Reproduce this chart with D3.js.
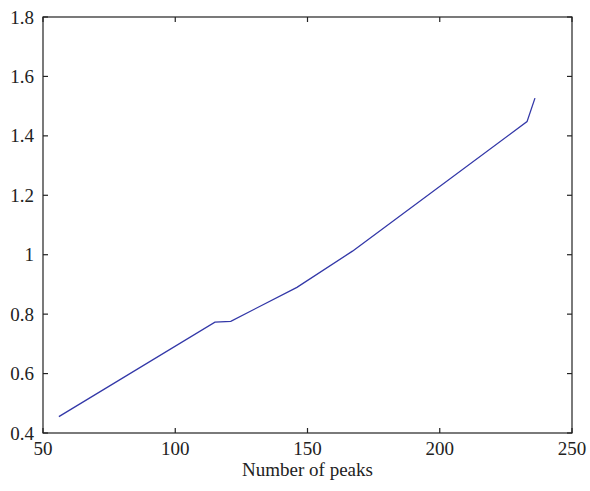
<!DOCTYPE html>
<html>
<head>
<meta charset="utf-8">
<script src="https://cdn.jsdelivr.net/npm/d3@7"></script>
<style>
  body { margin: 0; background: #fff; }
  text { font-family: "Liberation Serif", "DejaVu Serif", serif; fill: #222; }
</style>
</head>
<body>
<div id="viz"></div>
<script>
const peaks = [56, 115, 121, 146, 167, 233, 236];
const values = [0.455, 0.773, 0.776, 0.89, 1.012, 1.448, 1.527];
const xTicks = [50, 100, 150, 200, 250];
const yTicks = [0.4, 0.6, 0.8, 1, 1.2, 1.4, 1.6, 1.8];
const xLabel = 'Number of peaks';

const width = 590;
const height = 491;
const margin = {top: 17, right: 18, bottom: 58, left: 43};
const tickLen = 5;

const x = d3.scaleLinear()
  .domain([50, 250])
  .range([margin.left, width - margin.right]);
const y = d3.scaleLinear()
  .domain([0.4, 1.8])
  .range([height - margin.bottom, margin.top]);

const svg = d3.select('#viz')
  .append('svg')
    .attr('width', width)
    .attr('height', height);

// box
svg.append('rect')
  .attr('x', x(50))
  .attr('y', y(1.8))
  .attr('width', x(250) - x(50))
  .attr('height', y(0.4) - y(1.8))
  .attr('fill', 'none')
  .attr('stroke', '#222')
  .attr('stroke-width', 1.2);

// ticks, pointing inward on all four sides
const tickG = svg.append('g')
  .attr('stroke', '#222')
  .attr('stroke-width', 1.2);
xTicks.forEach(t => {
  tickG.append('line')
    .attr('x1', x(t)).attr('x2', x(t))
    .attr('y1', y(0.4)).attr('y2', y(0.4) - tickLen);
  tickG.append('line')
    .attr('x1', x(t)).attr('x2', x(t))
    .attr('y1', y(1.8)).attr('y2', y(1.8) + tickLen);
});
yTicks.forEach(t => {
  tickG.append('line')
    .attr('x1', x(50)).attr('x2', x(50) + tickLen)
    .attr('y1', y(t)).attr('y2', y(t));
  tickG.append('line')
    .attr('x1', x(250)).attr('x2', x(250) - tickLen)
    .attr('y1', y(t)).attr('y2', y(t));
});

// tick labels
svg.append('g')
  .selectAll('text')
  .data(xTicks)
  .join('text')
    .attr('x', d => x(d))
    .attr('y', y(0.4) + 22)
    .attr('text-anchor', 'middle')
    .style('font-size', '19px')
    .text(d => d);

svg.append('g')
  .selectAll('text')
  .data(yTicks)
  .join('text')
    .attr('x', x(50) - 9)
    .attr('y', d => y(d) + 6.5)
    .attr('text-anchor', 'end')
    .style('font-size', '19px')
    .text(d => d);

// axis title
svg.append('text')
  .attr('x', (x(50) + x(250)) / 2)
  .attr('y', y(0.4) + 43)
  .attr('text-anchor', 'middle')
  .style('font-size', '19px')
  .text(xLabel);

// data line
const line = d3.line()
  .x((d, i) => x(d))
  .y((d, i) => y(values[i]));

svg.append('path')
  .attr('d', line(peaks))
  .attr('fill', 'none')
  .attr('stroke', '#3338a8')
  .attr('stroke-width', 1.3);
</script>
</body>
</html>
